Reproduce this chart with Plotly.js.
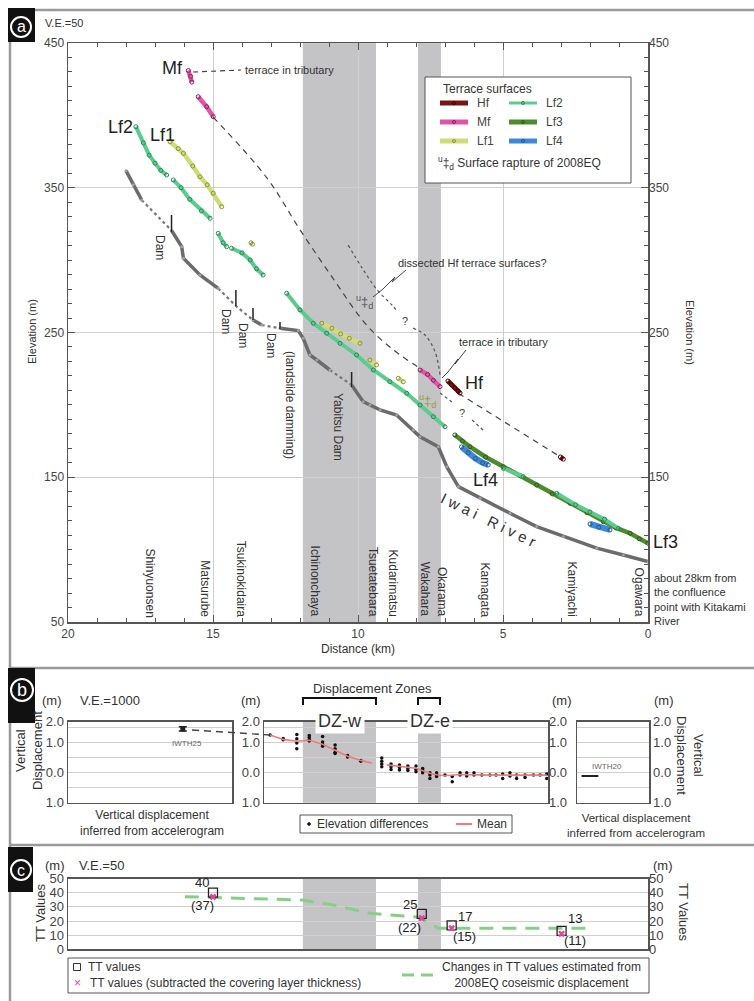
<!DOCTYPE html>
<html><head><meta charset="utf-8">
<script src="https://cdn.plot.ly/plotly-3.0.1.min.js"></script>
<style>html,body{margin:0;padding:0;background:#fff}#chart{width:754px;height:1001px}</style>
</head><body><div id="chart"></div>
<script>
// ---------------- DATA ----------------
// Panel a: river profile (Iwai River) - solid reaches
const riverKm   = [18.0,17.75,17.46,null,16.43,16.08,16.02,15.45,14.82,null,13.62,13.32,null,12.69,12.06,11.89,11.66,11.42,10.97,null,10.22,9.82,9.59,9.24,8.67,8.09,7.86,7.23,6.94,6.54,5.79,4.76,3.84,2.92,1.77,0.85,0];
const riverElev = [361.8,352,341.5,null,320.5,309.3,301.3,289.7,280.5,null,258.6,255.2,null,252.9,251.3,246,234.5,231,224.1,null,213.7,202.2,199.9,196.5,193,182.6,178,171.1,157.3,143.5,135.5,125.1,115.9,109,101,96.3,91.7];
// dammed reaches (dotted)
const riverGapKm   = [17.46,16.43,null,14.82,14.21,13.62,null,13.32,12.69,null,10.97,10.22];
const riverGapElev = [341.5,320.5,null,280.5,268.3,258.6,null,255.2,252.9,null,224.1,213.7];
// dams
const damKm   = [16.43,14.21,13.62,12.69,10.22];
const damTop  = [331.2,279.4,266.9,257.3,222.7];
const damBase = [319.4,268.3,258.6,252.4,212.4];
const damNames = ['Dam','Dam','Dam','Dam'];
// terrace surfaces
const hfKm   = [6.9,6.78,6.66,6.55,6.48,null,3.02,2.92];
const hfElev = [216.5,214,211.7,209.5,208.2,null,164,162.5];
const mfKm   = [15.85,15.77,15.73,null,15.51,15.22,14.99,null,7.86,7.6,7.4,7.17];
const mfElev = [431,427,423,null,412.9,406,399.1,null,224.1,221,217,212.6];
const lf1Km   = [16.48,16.2,16.02,15.7,15.45,15.2,14.99,14.7,null,13.69,13.64,null,11.25,10.9,10.6,10.3,9.93,null,9.59,9.36,null,8.61,8.44];
const lf1Elev = [381.8,377,373.8,365,357.6,352,346.2,336.9,null,312,311,null,256.4,253,249,246,242.5,null,231,227.6,null,218.4,216];
const lf2Km   = [17.66,17.4,17.2,17.0,16.8,16.6,null,16.37,16.1,15.8,15.4,15.1,null,14.82,14.65,14.53,null,14.36,14.0,13.72,13.5,13.27,null,12.46,12.0,11.54,11.08,10.62,10.05,9.47,8.9,8.32,7.86,7.4,7.0,null,4.99,4.3,null,3.15,2.5,2.0,1.5,1.02];
const lf2Elev = [392.2,381,372.5,367,362,358.8,null,355.4,350,342,334,328.9,null,318.5,312,309.3,null,308.2,305,300.1,294,289.7,null,277.1,265.6,256.4,249.5,242.5,234.5,224.1,216,208,199.9,191.8,184.9,null,156.2,150.4,null,138.9,131,126,121,114.7];
const lf3Km   = [6.66,6.4,6.14,5.6,4.99,4.4,3.84,3.3,2.69,2.1,1.54,1.1,0.62,0.3,0];
const lf3Elev = [179.2,175,171.1,164,157.3,151,144.6,138.5,132,125.5,119.3,115,111.3,107.5,104.4];
const lf4Km   = [6.43,6.2,5.95,5.7,5.51,null,2.0,1.7,1.31];
const lf4Elev = [171,167,163,160,158.5,null,117.7,115.5,113.6];
// projected / inferred surfaces
const mfProjKm   = [15.0,13.15,12.0,10.85,9.70,8.78,7.86];
const mfProjElev = [398.9,357,321,287,255,238,225.3];
const hfProjKm   = [6.54,3.03];
const hfProjElev = [208,164.2];
const dissKm   = [10.34,9.86,9.34,8.83,8.62,null,8.1,7.69,7.34,7.17,null,7.17,6.76,null,6.07,5.69];
const dissElev = [310.4,294.6,279.4,269,264,null,253,248.3,236.5,220.6,null,208.2,202,null,189.6,182.6];
const queryKm   = [8.38,6.41];
const queryElev = [258,194.4];
const placeNames = ['Shinyuonsen','Matsurube','Tsukinokidaira','Ichinonchaya','Tsuetatebara','Kudarimatsu','Wakahara','Okarama','Kamagata','Kamiyachi','Ogawara'];
const placeKm    = [17.17,15.27,14.03,11.45,9.48,8.76,7.66,7.1,5.62,2.59,0.28];
// displacement zones (km)
const zoneNames = ['DZ-w','DZ-e'];
const zoneStart = [11.9,7.93];
const zoneEnd   = [9.38,7.14];
// Panel b: elevation differences (m) and mean
const diffKm  = [13.03,12.58,12.58,12.11,12.11,12.11,12.11,11.68,11.68,11.68,11.68,11.22,11.22,11.22,11.22,10.79,10.79,10.79,10.79,10.36,10.36,9.9,9.9,
                 9.18,9.18,9.18,9.18,8.86,8.86,8.86,8.57,8.57,8.57,8.28,8.28,8.28,8.0,8.0,8.0,7.77,7.77,7.77,7.52,7.52,7.52,7.29,7.29,7.29,7.0,6.75,6.75,6.48,6.48,6.25,6.25,6.0,6.0,5.73,5.45,5.24,5.01,5.01,4.76,4.76,4.53,4.53,4.24,4.24,3.95,3.72,3.49,3.49];
const diffVal = [1.26,1.14,1.1,1.27,1.13,0.99,0.8,1.24,1.17,1.1,1.06,1.21,1.02,0.95,0.88,0.92,0.8,0.68,0.64,0.57,0.52,0.41,0.38,
                 0.49,0.38,0.29,0.2,0.29,0.2,0.11,0.26,0.17,0.09,0.22,0.14,0.07,0.22,0.11,0.03,0.14,0.07,0.0,0.0,-0.08,-0.19,0.0,-0.08,-0.13,-0.08,-0.13,-0.3,0.0,-0.08,0.0,-0.11,0.0,-0.08,-0.08,-0.08,-0.08,-0.04,-0.19,0.0,-0.11,-0.08,-0.19,-0.08,-0.16,-0.08,-0.08,-0.04,-0.19];
const meanKm  = [13.03,12.58,12.11,11.68,11.22,10.79,10.36,9.9,9.53,null,9.01,8.57,8.0,7.52,7.29,7.0,6.48,5.5,4.5,3.49];
const meanVal = [1.26,1.11,1.05,1.08,0.95,0.75,0.55,0.41,0.32,null,0.26,0.22,0.15,-0.02,-0.07,-0.1,-0.06,-0.08,-0.08,-0.08];
// accelerogram stations
const accelNames = ['IWTH25','IWTH20'];
const accelPos   = [0.7,0.18];
const accelVal   = [1.46,-0.11];
// Panel c: TT values
const ttKm  = [15.0,7.8,6.77,2.98];
const ttVal = [40,25,17,13];
const iiVal = [37,22,15,11];
const estKm  = [15.97,11.94,10.85,9.59,7.86,7.24,1.89];
const estVal = [37.2,34.8,31.3,25.5,22.6,15,15];
// tick labels
const aTicks = [50,150,250,350,450];
const aTicksRight = [150,250,350,450];
const xTicks = [20,15,10,5,0];
const bTickVals = [-1,0,1,1.7];
const bTickText = ['1.0','0.0','1.0','2.0'];
const cTicks = [0,10,20,30,40,50];

// ---------------- HELPERS ----------------
const W = 754, H = 1001;
const F = 'Liberation Sans, Arial, Helvetica, sans-serif';
const PX = x => x / W, PY = y => 1 - y / H;
const BAND = '#c4c4c6', GRID = '#cfcfcf', AX = '#555';
function ann(text, x, y, o) {
  o = o || {};
  const a = {text: text, x: PX(x), y: PY(y), xref: 'paper', yref: 'paper', showarrow: false,
    xanchor: o.xa || 'center', yanchor: o.ya || 'middle', textangle: o.angle || 0,
    align: o.align || 'center',
    font: {family: F, size: o.size || 12, color: o.color || '#333'}};
  if (o.bg) { a.bgcolor = o.bg; a.borderpad = o.pad || 1; }
  return a;
}
function line(x0, y0, x1, y1, o) {
  o = o || {};
  return {type: 'line', xref: 'paper', yref: 'paper', x0: PX(x0), y0: PY(y0), x1: PX(x1), y1: PY(y1),
    line: {color: o.color || '#333', width: o.width || 1, dash: o.dash || 'solid'}, layer: o.layer || 'above'};
}
function rect(x0, y0, x1, y1, o) {
  o = o || {};
  return {type: 'rect', xref: 'paper', yref: 'paper', x0: PX(x0), y0: PY(y0), x1: PX(x1), y1: PY(y1),
    line: {color: o.color || '#555', width: o.width === undefined ? 1 : o.width}, fillcolor: o.fill || 'rgba(0,0,0,0)', layer: o.layer || 'above'};
}
function path(pts, o) {
  o = o || {};
  let d = pts.map((p, i) => (i ? 'L' : 'M') + PX(p[0]).toFixed(5) + ',' + PY(p[1]).toFixed(5)).join(' ');
  return {type: 'path', xref: 'paper', yref: 'paper', path: d, line: {color: o.color || '#444', width: o.width || 1, dash: o.dash || 'solid'}, layer: 'above'};
}
function circ(cx, cy, r, o) {
  o = o || {};
  return {type: 'circle', xref: 'paper', yref: 'paper', x0: PX(cx - r), x1: PX(cx + r), y0: PY(cy + r), y1: PY(cy - r),
    line: {color: o.color || '#fff', width: o.width || 2}, fillcolor: o.fill || 'rgba(0,0,0,0)', layer: 'above'};
}

const C = {Hf: '#7a1414', Mf: '#e055a8', Lf1: '#cfdc78', Lf2: '#5ccb8e', Lf3: '#4e8a2e', Lf4: '#3f88d6'};
const MK = {Hf: '#3a0606', Mf: '#8a1f60', Lf1: '#8a9430', Lf2: '#2a8a55', Lf3: '#2d5a18', Lf4: '#1d5a9a'};

// ---------------- TRACES ----------------
const traces = [];
const A = {xaxis: 'x', yaxis: 'y', hoverinfo: 'skip', showlegend: false};
traces.push(Object.assign({x: riverGapKm, y: riverGapElev, mode: 'lines', line: {color: '#777', width: 2.2, dash: 'dot'}}, A));
traces.push(Object.assign({x: riverKm, y: riverElev, mode: 'lines+markers', line: {color: '#6b6b6b', width: 3.5}, marker: {size: 3, color: '#a0a0a0'}}, A));
const dx = [], dy = [];
damKm.forEach((k, i) => { dx.push(k, k, null); dy.push(damBase[i], damTop[i], null); });
traces.push(Object.assign({x: dx, y: dy, mode: 'lines', line: {color: '#222', width: 1.5}}, A));
traces.push(Object.assign({x: mfProjKm, y: mfProjElev, mode: 'lines', line: {color: '#444', width: 1.2, dash: '6px,5px', shape: 'spline'}}, A));
traces.push(Object.assign({x: hfProjKm, y: hfProjElev, mode: 'lines', line: {color: '#444', width: 1.2, dash: '6px,5px'}}, A));
traces.push(Object.assign({x: dissKm, y: dissElev, mode: 'lines', line: {color: '#555', width: 1.2, dash: 'dot', shape: 'spline'}}, A));
[['Lf4', lf4Km, lf4Elev, 6], ['Lf3', lf3Km, lf3Elev, 4.5], ['Lf2', lf2Km, lf2Elev, 4], ['Lf1', lf1Km, lf1Elev, 4.5], ['Mf', mfKm, mfElev, 4.5], ['Hf', hfKm, hfElev, 5]].forEach(t => {
  traces.push(Object.assign({x: t[1], y: t[2], mode: 'lines+markers', line: {color: C[t[0]], width: t[3]},
    marker: {symbol: 'circle-open', size: 4, color: MK[t[0]], line: {width: 1}}}, A));
});
traces.push({x: [null], y: [null], xaxis: 'x', yaxis: 'y2', mode: 'markers', showlegend: false, hoverinfo: 'skip'});

// panel b
traces.push({x: diffKm, y: diffVal, xaxis: 'x3', yaxis: 'y4', mode: 'markers', marker: {size: 3.5, color: '#111'}, showlegend: false, hoverinfo: 'skip'});
traces.push({x: meanKm, y: meanVal, xaxis: 'x3', yaxis: 'y4', mode: 'lines', line: {color: '#f07a7a', width: 1.6}, showlegend: false, hoverinfo: 'skip'});
traces.push({x: [null], y: [null], xaxis: 'x3', yaxis: 'y5', mode: 'markers', showlegend: false, hoverinfo: 'skip'});
traces.push({x: [accelPos[0]], y: [accelVal[0]], xaxis: 'x2', yaxis: 'y3', mode: 'markers',
  marker: {symbol: 'square', size: 5, color: '#222'}, error_y: {type: 'constant', value: 0.07, color: '#222', thickness: 1.5, width: 4}, showlegend: false, hoverinfo: 'skip'});
traces.push({x: [accelPos[1]], y: [accelVal[1]], xaxis: 'x4', yaxis: 'y6', mode: 'markers',
  marker: {symbol: 'line-ew-open', size: 12, color: '#222', line: {width: 2, color: '#222'}}, showlegend: false, hoverinfo: 'skip'});

// panel c
traces.push({x: estKm, y: estVal, xaxis: 'x5', yaxis: 'y7', mode: 'lines', line: {color: '#86d086', width: 3, dash: '14px,9px'}, showlegend: false, hoverinfo: 'skip'});
traces.push({x: ttKm, y: ttVal, xaxis: 'x5', yaxis: 'y7', mode: 'markers', marker: {symbol: 'square-open', size: 9, color: '#222', line: {width: 1.3}}, showlegend: false, hoverinfo: 'skip'});
traces.push({x: ttKm, y: iiVal, xaxis: 'x5', yaxis: 'y7', mode: 'markers', marker: {symbol: 'x', size: 6, color: '#e0459f'}, showlegend: false, hoverinfo: 'skip'});
traces.push({x: [null], y: [null], xaxis: 'x5', yaxis: 'y8', mode: 'markers', showlegend: false, hoverinfo: 'skip'});

// ---------------- AXES ----------------
const tf = s => ({family: F, size: s, color: '#444'});
const boxAx = {showline: true, linecolor: AX, linewidth: 1.5, mirror: true, zeroline: false};
const bMinor = {tick0: 0, dtick: 0.5, ticks: '', showgrid: true, gridcolor: GRID, gridwidth: 1};
const layout = {
  width: W, height: H, autosize: false, margin: {l: 0, r: 0, t: 0, b: 0},
  paper_bgcolor: '#fff', plot_bgcolor: '#fff', showlegend: false, font: {family: F},
  xaxis: {domain: [PX(68), PX(648)], range: [20, 0], anchor: 'y', tickvals: xTicks, ticks: 'inside', ticklen: 7, tickcolor: AX,
    minor: {dtick: 1, ticks: 'inside', ticklen: 4, tickcolor: AX, showgrid: false},
    showgrid: true, gridcolor: GRID, showline: true, linecolor: AX, linewidth: 1.5, mirror: 'ticks', zeroline: false, tickfont: tf(12)},
  yaxis: {domain: [PY(622), PY(43)], range: [50, 450], anchor: 'x', tickvals: aTicks, ticks: 'inside', ticklen: 7, tickcolor: AX,
    minor: {tick0: 50, dtick: 10, ticks: 'inside', ticklen: 4, tickcolor: AX, showgrid: false},
    showgrid: true, gridcolor: GRID, showline: true, linecolor: AX, linewidth: 1.5, mirror: 'ticks', zeroline: false, tickfont: tf(12)},
  yaxis2: {overlaying: 'y', side: 'right', anchor: 'x', range: [50, 450], tickvals: aTicksRight, ticks: '', showgrid: false, showline: false, zeroline: false, tickfont: tf(12)},
  // panel b
  xaxis2: Object.assign({domain: [PX(68), PX(232)], range: [0, 1], anchor: 'y3', showticklabels: false, ticks: '', showgrid: false}, boxAx),
  yaxis3: Object.assign({domain: [PY(802.7), PY(721.7)], range: [-1, 1.7], anchor: 'x2', tickvals: bTickVals, ticktext: bTickText, ticks: '', showgrid: true, gridcolor: GRID, minor: bMinor, tickfont: tf(13)}, boxAx),
  xaxis3: Object.assign({domain: [PX(264), PX(548)], range: [13.241, 3.448], anchor: 'y4', showticklabels: false, ticks: '', showgrid: false}, boxAx),
  yaxis4: Object.assign({domain: [PY(802.7), PY(721.7)], range: [-1, 1.7], anchor: 'x3', tickvals: bTickVals, ticktext: bTickText, ticks: '', showgrid: true, gridcolor: GRID, minor: bMinor, tickfont: tf(13)}, boxAx),
  yaxis5: {overlaying: 'y4', side: 'right', anchor: 'x3', range: [-1, 1.7], tickvals: bTickVals, ticktext: bTickText, ticks: '', showgrid: false, showline: false, zeroline: false, tickfont: tf(13)},
  xaxis4: Object.assign({domain: [PX(577), PX(649)], range: [0, 1], anchor: 'y6', showticklabels: false, ticks: '', showgrid: false}, boxAx),
  yaxis6: Object.assign({domain: [PY(802.7), PY(721.7)], range: [-1, 1.7], anchor: 'x4', side: 'right', tickvals: bTickVals, ticktext: bTickText, ticks: '', showgrid: true, gridcolor: GRID, minor: bMinor, tickfont: tf(13)}, boxAx),
  // panel c
  xaxis5: Object.assign({domain: [PX(68), PX(648)], range: [20, 0], anchor: 'y7', showticklabels: false, ticks: '', showgrid: false}, boxAx),
  yaxis7: Object.assign({domain: [PY(949.4), PY(878.5)], range: [0, 50], anchor: 'x5', tickvals: cTicks, ticks: '', showgrid: true, gridcolor: GRID, tickfont: tf(13)}, boxAx),
  yaxis8: {overlaying: 'y7', side: 'right', anchor: 'x5', range: [0, 50], tickvals: cTicks, ticks: '', showgrid: false, showline: false, zeroline: false, tickfont: tf(13)}
};

// ---------------- SHAPES ----------------
const shapes = [];
zoneStart.forEach((s, i) => {
  shapes.push({type: 'rect', xref: 'x', yref: 'y domain', x0: s, x1: zoneEnd[i], y0: 0, y1: 1, fillcolor: BAND, line: {width: 0}, layer: 'below'});
  shapes.push({type: 'rect', xref: 'x3', yref: 'y4 domain', x0: s, x1: zoneEnd[i], y0: 0, y1: i === 0 ? 1 : 0.9, fillcolor: BAND, line: {width: 0}, layer: 'below'});
  shapes.push({type: 'rect', xref: 'x5', yref: 'y7 domain', x0: s, x1: zoneEnd[i], y0: 0, y1: 1, fillcolor: BAND, line: {width: 0}, layer: 'below'});
});
// frame
const FR = {color: '#9a9a9a', width: 2.5};
shapes.push(line(10, 10, 754, 10, FR), line(10, 10, 10, 1001, FR), line(10, 668, 754, 668, FR), line(10, 845, 754, 845, FR));
// panel labels
shapes.push(rect(8, 8, 35, 42, {fill: '#111', width: 0}), rect(8, 668, 35, 723, {fill: '#111', width: 0}), rect(8, 847, 33, 892, {fill: '#111', width: 0}));
shapes.push(circ(21, 27, 10), circ(22, 690, 11), circ(21, 870, 10));
// leaders in panel a
shapes.push(line(193, 72, 241, 70, {color: '#444', dash: '5px,4px', width: 1.2}));
shapes.push(path([[406, 270], [392, 282], [395, 277], [383, 289], [373, 297]], {color: '#444'}));
shapes.push(path([[466, 350], [455, 364], [458, 359], [448, 372], [442, 378]], {color: '#444'}));
// legend a
shapes.push(rect(425, 77, 631, 183, {fill: '#fff', color: '#555'}));
const legA = [['Hf', 440, 103], ['Mf', 440, 122], ['Lf1', 440, 141], ['Lf2', 509, 103], ['Lf3', 509, 122], ['Lf4', 509, 141]];
legA.forEach(l => {
  shapes.push(line(l[1], l[2], l[1] + 28, l[2], {color: C[l[0]], width: l[0] === 'Lf2' ? 3 : 5}));
  shapes.push(circ(l[1] + 14, l[2], 1.5, {color: MK[l[0]], width: 1}));
});
// panel b: brackets, dashed link, legend
shapes.push(path([[303, 705], [303, 698], [376, 698], [376, 705]], {color: '#111', width: 2}));
shapes.push(path([[418, 705], [418, 698], [440, 698], [440, 705]], {color: '#111', width: 2}));
shapes.push(line(192, 730, 270, 735, {color: '#444', dash: '7px,5px', width: 1.4}));
shapes.push(rect(300, 815, 512, 833, {fill: '#fff', color: '#555'}));
shapes.push(circ(309, 824, 1.3, {color: '#111', width: 1, fill: '#111'}));
shapes.push(line(456, 824, 472, 824, {color: '#f07a7a', width: 2}));
// panel c legend
shapes.push(rect(68, 958, 649, 993, {fill: '#fff', color: '#555'}));
shapes.push(rect(73.5, 963.5, 80.5, 970.5, {color: '#333', width: 1}));
shapes.push(line(402, 975, 433, 975, {color: '#86d086', width: 3, dash: '12px,7px'}));
layout.shapes = shapes;

// ---------------- ANNOTATIONS ----------------
const an = [];
// panel letters
an.push(ann('a', 21, 27, {size: 16, color: '#fff'}), ann('b', 22, 690, {size: 18, color: '#fff'}), ann('c', 21, 870, {size: 16, color: '#fff'}));
// panel a texts
an.push(ann('V.E.=50', 43, 23, {xa: 'left', size: 11}));
an.push(ann('Elevation (m)', 32, 332, {angle: -90, size: 11}));
an.push(ann('Elevation (m)', 690, 332, {angle: 90, size: 11}));
an.push(ann('Distance (km)', 358, 649, {size: 12}));
an.push(ann('Mf', 172, 68, {size: 18, color: '#222'}), ann('Lf2', 120, 127, {size: 18, color: '#222'}), ann('Lf1', 162, 135, {size: 18, color: '#222'}));
an.push(ann('Hf', 474, 383, {size: 18, color: '#222'}), ann('Lf4', 485, 480, {size: 18, color: '#222'}), ann('Lf3', 651, 542, {size: 18, color: '#222', xa: 'left'}));
an.push(ann('terrace in tributary', 243, 70, {xa: 'left', size: 11}));
an.push(ann('terrace in tributary', 503, 342, {size: 11}));
an.push(ann('dissected Hf terrace surfaces?', 396, 263, {xa: 'left', size: 11}));
queryKm.forEach((k, i) => an.push({text: '?', x: k, y: queryElev[i], xref: 'x', yref: 'y', showarrow: false, font: {family: F, size: 11, color: '#444'}}));
an.push(ann('<sup>u</sup>‡<sub>d</sub>', 364, 302, {size: 13, color: '#555'}));
an.push(ann('<sup>u</sup>‡<sub>d</sub>', 428, 401, {size: 13, color: '#9a9a3a'}));
an.push(ann('I\u00a0w\u00a0a\u00a0i\u00a0\u00a0\u00a0R\u00a0i\u00a0v\u00a0e\u00a0r', 488, 519, {angle: 26, size: 15, color: '#333'}));
const damLab = [[160, 247], [226, 321], [243, 335], [271, 345]];
damNames.forEach((n, i) => an.push(ann(n, damLab[i][0], damLab[i][1], {angle: 90, size: 12})));
an.push(ann('(landslide damming)', 290, 405, {angle: 90, size: 12}));
an.push(ann('Yabitsu Dam', 338, 427, {angle: 90, size: 12}));
placeNames.forEach((n, i) => an.push({text: n, x: placeKm[i], y: PY(619), xref: 'x', yref: 'paper', showarrow: false, textangle: 90,
  xanchor: 'center', yanchor: 'bottom', font: {family: F, size: 12, color: '#333'}}));
an.push(ann('about 28km from<br>the confluence<br>point with Kitakami<br>River', 652, 599, {xa: 'left', align: 'left', size: 11}));
// legend a
an.push(ann('Terrace surfaces', 441, 89, {xa: 'left', size: 12}));
legA.forEach(l => an.push(ann(l[0], l[1] + 35, l[2], {xa: 'left', size: 12, color: '#444'})));
an.push(ann('<sup>u</sup>‡<sub>d</sub> Surface rapture of 2008EQ', 436, 163, {xa: 'left', size: 12}));
// panel b texts
an.push(ann('(m)', 52, 700, {size: 13}), ann('V.E.=1000', 78, 700, {xa: 'left', size: 13}));
an.push(ann('(m)', 251, 700, {size: 13}), ann('(m)', 562, 700, {size: 13}), ann('(m)', 664, 700, {size: 13}));
an.push(ann('Vertical<br>Displacement', 29, 751, {angle: -90, size: 13}));
an.push(ann('Vertical<br>Displacement', 690, 755, {angle: 90, size: 13}));
an.push(ann('Displacement Zones', 372, 688, {size: 13}));
an.push(ann(zoneNames[0], 340, 721, {size: 18, bg: '#fff', pad: 2}));
an.push(ann(zoneNames[1], 430, 721, {size: 18, bg: '#fff', pad: 2}));
an.push(ann(accelNames[0], 187, 743, {size: 8, color: '#666'}));
an.push(ann(accelNames[1], 607, 766, {size: 8, color: '#666'}));
an.push(ann('Vertical displacement<br>inferred from accelerogram', 152, 823, {size: 12}));
an.push(ann('Vertical displacement<br>inferred from accelerogram', 636, 825, {size: 11.5}));
an.push(ann('Elevation differences', 315, 824, {xa: 'left', size: 12}));
an.push(ann('Mean', 475, 824, {xa: 'left', size: 12}));
// panel c texts
an.push(ann('(m)', 55, 865, {size: 13}), ann('V.E.=50', 77, 865, {xa: 'left', size: 13}), ann('(m)', 663, 865, {size: 13}));
an.push(ann('TT Values', 40, 913, {angle: -90, size: 13}));
an.push(ann('TT Values', 684, 912, {angle: 90, size: 13}));
const ttOff = [[-11, 10, -11, -13], [-12, 9, -12, -14], [13, 9, 13, -11], [13, 12, 13, -10]];
ttKm.forEach((k, i) => {
  an.push({text: String(ttVal[i]), x: k, y: ttVal[i], xref: 'x5', yref: 'y7', showarrow: false, xshift: ttOff[i][0], yshift: ttOff[i][1], font: {family: F, size: 13, color: '#222'}});
  an.push({text: '(' + iiVal[i] + ')', x: k, y: ttVal[i], xref: 'x5', yref: 'y7', showarrow: false, xshift: ttOff[i][2], yshift: ttOff[i][3], font: {family: F, size: 13, color: '#222'}});
});
an.push(ann('TT values', 86, 967, {xa: 'left', size: 12}));
an.push(ann('×', 77, 983, {size: 12, color: '#e0459f'}));
an.push(ann('TT values (subtracted the covering layer thickness)', 88, 983, {xa: 'left', size: 12}));
an.push(ann('Changes in TT values estimated from<br>2008EQ coseismic displacement', 541, 975, {size: 12}));
layout.annotations = an;

Plotly.newPlot('chart', traces, layout, {staticPlot: true, displayModeBar: false});
</script></body></html>
